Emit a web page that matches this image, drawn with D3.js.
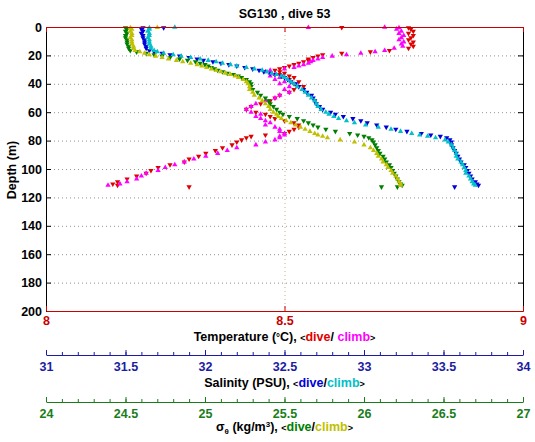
<!DOCTYPE html>
<html><head><meta charset="utf-8">
<script src="https://cdn.jsdelivr.net/npm/d3@7"></script>
<style>
body{margin:0;background:#fff}
text{font-family:"Liberation Sans",Arial,Helvetica,sans-serif;font-weight:bold}
</style>
</head><body>
<svg id="c" width="535" height="442"></svg>
<script>
// ---------------- data ----------------
const depthM = [0.5,1.5,3,4.5,6,7.5,9,10.5,12,13.5,
 15,16.5,17.5,18.5,19.5,20.5,21.5,22.5,23.5,24.5,
 25.5,26.5,27.5,28.5,29.5,30.5,31.5,32.5,33.5,34.5,
 35.5,37,38.5,40,42,44,46,48,50,52,
 54,56,58,60,61.5,63,64.5,66,67.5,69,
 70.5,72,73.5,75,76,77,78,79.5,81,83,
 85,87,89,91,93,95,97,99,101,103,
 105,107,109,110.5,111.5];

const tempDive = [8.76,8.765,8.77,8.76,8.77,8.765,8.76,8.77,8.765,8.77,
 8.76,8.72,8.68,8.62,8.58,8.57,8.56,8.55,8.55,8.54,
 8.53,8.52,8.51,8.50,8.49,8.48,8.49,8.50,8.49,8.51,
 8.52,8.51,8.53,8.52,8.54,8.52,8.51,8.49,8.48,8.47,
 8.45,8.43,8.42,8.44,8.46,8.47,8.48,8.50,8.52,8.53,
 8.53,8.52,8.51,8.50,8.46,8.43,8.42,8.41,8.40,8.39,
 8.37,8.355,8.335,8.32,8.30,8.29,8.26,8.235,8.22,8.21,
 8.19,8.17,8.15,8.14,8.15];

const tempClimb = [8.74,8.735,8.745,8.74,8.75,8.745,8.74,8.75,8.745,8.748,
 8.73,8.71,8.69,8.66,8.63,8.60,8.58,8.57,8.56,8.555,
 8.55,8.54,8.53,8.52,8.50,8.47,8.46,8.47,8.48,8.47,
 8.49,8.48,8.50,8.49,8.51,8.50,8.51,8.49,8.48,8.46,
 8.44,8.43,8.42,8.43,8.45,8.44,8.45,8.46,8.47,8.46,
 8.48,8.49,8.49,8.50,8.50,8.49,8.49,8.48,8.46,8.44,
 8.40,8.38,8.36,8.335,8.31,8.29,8.27,8.25,8.235,8.21,
 8.20,8.19,8.17,8.155,8.13];

const salDive = [31.61,31.60,31.61,31.60,31.61,31.61,31.62,31.62,31.62,31.63,
 31.63,31.65,31.68,31.73,31.78,31.84,31.90,31.95,31.99,32.05,
 32.10,32.15,32.20,32.25,32.30,32.34,32.37,32.41,32.44,32.48,
 32.50,32.52,32.54,32.57,32.59,32.62,32.64,32.67,32.68,32.69,
 32.70,32.72,32.74,32.79,32.82,32.87,32.93,32.98,33.02,33.08,
 33.14,33.20,33.27,33.36,33.42,33.48,33.52,33.54,33.55,33.55,
 33.56,33.57,33.58,33.59,33.60,33.61,33.63,33.64,33.65,33.66,
 33.67,33.68,33.70,33.71,33.72];

const salClimb = [31.65,31.65,31.64,31.65,31.65,31.64,31.65,31.65,31.65,31.66,
 31.66,31.68,31.70,31.74,31.80,31.85,31.91,31.97,32.02,32.07,
 32.11,32.16,32.20,32.26,32.31,32.36,32.39,32.42,32.45,32.48,
 32.50,32.52,32.54,32.56,32.58,32.61,32.63,32.65,32.67,32.69,
 32.70,32.71,32.73,32.76,32.78,32.81,32.84,32.89,32.94,33.01,
 33.09,33.17,33.23,33.30,33.35,33.40,33.45,33.51,33.53,33.55,
 33.56,33.57,33.58,33.58,33.59,33.61,33.62,33.63,33.64,33.64,
 33.66,33.67,33.68,33.69,33.70];

const sigDive = [24.50,24.51,24.50,24.51,24.50,24.50,24.51,24.51,24.51,24.52,
 24.52,24.53,24.57,24.63,24.68,24.73,24.78,24.84,24.89,24.94,
 24.97,25.00,25.02,25.04,25.06,25.08,25.11,25.14,25.18,25.21,
 25.23,25.26,25.28,25.29,25.29,25.30,25.33,25.35,25.38,25.40,
 25.41,25.43,25.45,25.47,25.49,25.53,25.58,25.62,25.65,25.68,
 25.71,25.76,25.82,25.91,25.96,26.00,26.03,26.05,26.06,26.07,
 26.08,26.09,26.10,26.12,26.13,26.14,26.16,26.17,26.18,26.19,
 26.20,26.21,26.22,26.23,26.24];

const sigClimb = [24.53,24.54,24.53,24.54,24.54,24.53,24.54,24.54,24.54,24.55,
 24.55,24.56,24.59,24.62,24.65,24.69,24.73,24.77,24.82,24.86,
 24.91,24.95,24.98,25.01,25.04,25.07,25.10,25.13,25.16,25.19,
 25.21,25.24,25.26,25.27,25.28,25.28,25.30,25.31,25.34,25.36,
 25.38,25.40,25.41,25.43,25.45,25.46,25.48,25.51,25.54,25.57,
 25.60,25.63,25.66,25.69,25.71,25.74,25.77,25.85,25.94,26.00,
 26.04,26.06,26.08,26.09,26.11,26.12,26.14,26.15,26.17,26.18,
 26.20,26.21,26.22,26.23,26.23];

// isolated samples: [depth, value]
const tempDiveExtra  = [[0.4,8.62],[112.6,8.30]];
const tempClimbExtra = [[0.4,8.55],[0.2,8.71]];
const salDiveExtra   = [[0.5,31.74],[112.6,33.57]];
const salClimbExtra  = [[0.2,31.81]];
const sigDiveExtra   = [[112.6,26.11],[112.6,26.21]];
const sigClimbExtra  = [[0.3,24.70]];

const depthTicks = [0,20,40,60,80,100,120,140,160,180,200];
const tempTicks  = [8,8.5,9];
const salTicks   = [31,31.5,32,32.5,33,33.5,34];
const sigTicks   = [24,24.5,25,25.5,26,26.5,27];

// ---------------- drawing ----------------
const svg = d3.select("#c");
const L=46, R=523, T=27, B=311;
const y  = d3.scaleLinear().domain([0,200]).range([T,B]);
const xT = d3.scaleLinear().domain([8,9]).range([L,R]);
const xS = d3.scaleLinear().domain([31,34]).range([L,R]);
const xG = d3.scaleLinear().domain([24,27]).range([L,R]);

const RED="#c80000", BLUE="#1c1ca0", GREEN="#1a7d1a";

// grid
svg.append("g").selectAll("line").data(depthTicks.filter(d=>d>0&&d<200)).join("line")
  .attr("x1",L).attr("x2",R).attr("y1",d=>y(d)+0.5).attr("y2",d=>y(d)+0.5)
  .attr("stroke","#777").attr("stroke-width",0.8).attr("stroke-dasharray","1,3");
svg.append("line").attr("x1",xT(8.5)+0.5).attr("x2",xT(8.5)+0.5).attr("y1",T).attr("y2",B)
  .attr("stroke","#d08a8a").attr("stroke-width",0.8).attr("stroke-dasharray","1,3");

// markers
function plot(vals, depths, sc, color, down){
  const sym = d3.symbol().type(d3.symbolTriangle).size(12);
  svg.append("g").selectAll("path").data(vals.map((v,i)=>[depths[i],v])).join("path")
    .attr("d",sym)
    .attr("transform",d=>`translate(${sc(d[1])},${y(d[0])})${down?" rotate(180)":""}`)
    .attr("fill",color);
}
function plotPairs(pairs, sc, color, down){
  plot(pairs.map(p=>p[1]), pairs.map(p=>p[0]), sc, color, down);
}
plot(tempDive, depthM, xT, "#e00000", true);   plotPairs(tempDiveExtra, xT, "#e00000", true);
plot(tempClimb, depthM, xT, "#ff00ff", false); plotPairs(tempClimbExtra, xT, "#ff00ff", false);
plot(salDive, depthM, xS, "#0000d8", true);    plotPairs(salDiveExtra, xS, "#0000d8", true);
plot(salClimb, depthM, xS, "#00c0c8", false);  plotPairs(salClimbExtra, xS, "#00c0c8", false);
plot(sigDive, depthM, xG, "#007f00", true);    plotPairs(sigDiveExtra, xG, "#007f00", true);
plot(sigClimb, depthM, xG, "#c0c000", false);  plotPairs(sigClimbExtra, xG, "#c0c000", false);

const fs = "12.5px";
// depth axes
const ax = svg.append("g").attr("transform",`translate(${L},0)`)
  .call(d3.axisLeft(y).tickValues(depthTicks).tickSize(-5).tickPadding(4).tickFormat(d=>d));
ax.select(".domain").remove();
ax.selectAll("text").attr("font-size",fs).attr("fill","#000");
ax.selectAll("line").attr("stroke","#000");
const axr = svg.append("g").attr("transform",`translate(${R},0)`)
  .call(d3.axisRight(y).tickValues(depthTicks).tickSize(-5).tickFormat(""));
axr.select(".domain").remove();
axr.selectAll("line").attr("stroke","#000");
svg.append("line").attr("x1",L+0.5).attr("x2",L+0.5).attr("y1",T).attr("y2",B+0.5).attr("stroke","#000");
svg.append("line").attr("x1",R+0.5).attr("x2",R+0.5).attr("y1",T).attr("y2",B+0.5).attr("stroke","#000");

// temperature axes (top and bottom, red)
const at = svg.append("g").attr("transform",`translate(0,${B})`)
  .call(d3.axisBottom(xT).tickValues(tempTicks).tickSize(-5).tickSizeOuter(0).tickPadding(5).tickFormat(d=>String(d)));
at.selectAll("text").attr("font-size",fs).attr("fill",RED);
at.selectAll("line,path").attr("stroke",RED);
const att = svg.append("g").attr("transform",`translate(0,${T})`)
  .call(d3.axisTop(xT).tickValues(tempTicks).tickSize(-5).tickSizeOuter(0).tickFormat(""));
att.selectAll("line,path").attr("stroke",RED);

// salinity axis
const SY=355;
const as = svg.append("g").attr("transform",`translate(0,${SY})`)
  .call(d3.axisBottom(xS).tickValues(salTicks).tickSize(-5).tickSizeOuter(0).tickPadding(7).tickFormat(d=>String(d)));
as.selectAll("text").attr("font-size",fs).attr("fill",BLUE);
as.selectAll("line,path").attr("stroke",BLUE);
const asm = svg.append("g").attr("transform",`translate(0,${SY})`)
  .call(d3.axisBottom(xS).tickValues(d3.range(31,34.001,0.1)).tickSize(-3).tickFormat(""));
asm.select(".domain").remove();
asm.selectAll("line").attr("stroke",BLUE);

// sigma axis
const GY=402;
const ag = svg.append("g").attr("transform",`translate(0,${GY})`)
  .call(d3.axisBottom(xG).tickValues(sigTicks).tickSize(-5).tickSizeOuter(0).tickPadding(7).tickFormat(d=>String(d)));
ag.selectAll("text").attr("font-size",fs).attr("fill",GREEN);
ag.selectAll("line,path").attr("stroke",GREEN);
const agm = svg.append("g").attr("transform",`translate(0,${GY})`)
  .call(d3.axisBottom(xG).tickValues(d3.range(24,27.001,0.1)).tickSize(-3).tickFormat(""));
agm.select(".domain").remove();
agm.selectAll("line").attr("stroke",GREEN);

// titles
const cx = (L+R)/2;
svg.append("text").attr("x",cx).attr("y",18).attr("text-anchor","middle").attr("font-size","12.5px").text("SG130 , dive 53");
svg.append("text").attr("transform","translate(16,170) rotate(-90)").attr("text-anchor","middle").attr("font-size",fs).text("Depth (m)");

function title(yPos, parts){
  const t = svg.append("text").attr("x",cx).attr("y",yPos).attr("text-anchor","middle").attr("font-size",fs);
  parts.forEach(p=>{
    const s=t.append("tspan").text(p.t);
    if(p.c) s.attr("fill",p.c);
    if(p.fs) s.attr("font-size",p.fs);
    if(p.dy) s.attr("dy",p.dy);
  });
}
title(340.5,[{t:"Temperature ("},{t:"°",fs:"10px"},{t:"C), "},{t:"<",fs:"9px"},{t:"dive",c:"#e00000"},{t:"/ "},{t:"climb",c:"#ff00ff"},{t:">",fs:"9px"}]);
title(386.5,[{t:"Salinity (PSU), "},{t:"<",fs:"9px"},{t:"dive",c:"#0000d8"},{t:"/"},{t:"climb",c:"#00c0c8"},{t:">",fs:"9px"}]);
title(431,[{t:"σ"},{t:"θ",fs:"8px",dy:"3"},{t:" (kg/m",dy:"-3"},{t:"3",fs:"8px",dy:"-4"},{t:"), ",dy:"4"},{t:"<",fs:"9px"},{t:"dive",c:"#007f00"},{t:"/"},{t:"climb",c:"#c0c000"},{t:">",fs:"9px"}]);
</script>
</body></html>
